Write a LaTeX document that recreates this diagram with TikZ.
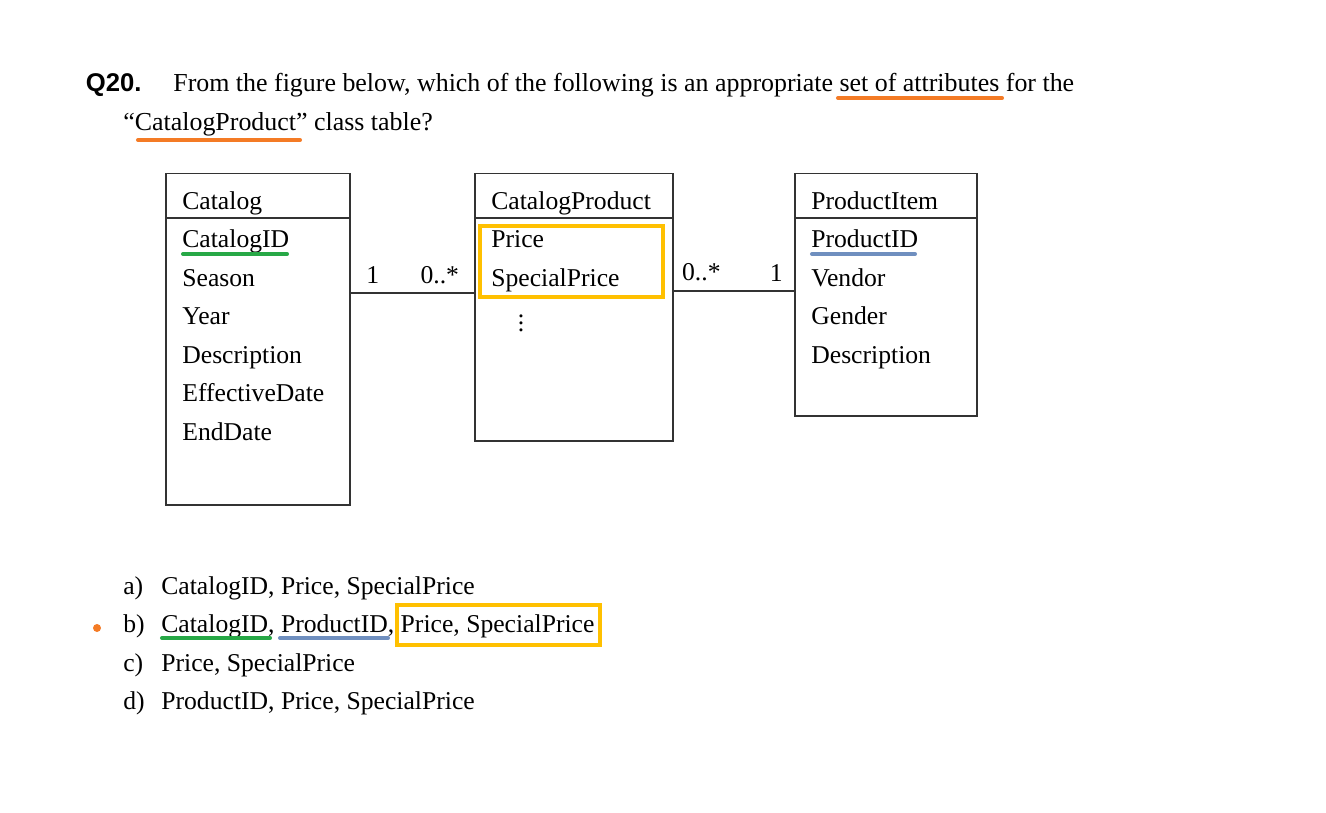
\documentclass[tikz,border=0pt]{standalone}
\usepackage{fontspec}
\setmainfont{Liberation Serif}
\newfontfamily\headfont{Liberation Sans}
\usetikzlibrary{positioning}
\definecolor{markorange}{HTML}{F47B25}
\definecolor{markyellow}{HTML}{FFC000}
\definecolor{markgreen}{HTML}{27A846}
\definecolor{markblue}{HTML}{6F8FBF}
\tikzset{
    every node/.style={inner sep=0mm, font=\fontsize{14.6pt}{17pt}\selectfont}
}
\tikzset{txt/.style={anchor=base west}}
\tikzset{headtxt/.style={anchor=base west, font=\fontsize{14.75pt}{17pt}\selectfont}}
\tikzset{classbox/.style={draw=black!80, line width=0.6pt}}
\tikzset{thinline/.style={draw=black!80, line width=0.6pt}}
\tikzset{markline/.style={line width=2.3pt, line cap=round}}
\tikzset{markbox/.style={draw=markyellow, line width=2.3pt}}

\begin{document}
\begin{tikzpicture}[x=0.02cm, y=-0.02cm]
    \useasboundingbox (0,0) rectangle (1326,812);

    \node (qnum) at (85.5,91) [txt, font=\headfont\bfseries\fontsize{14.6pt}{17pt}\selectfont] {Q20.};
    \node (qline1) at (173,91) [headtxt] {From the figure below, which of the following is an appropriate set of attributes for the};
    \node (qline2) at (123,130) [headtxt] {“CatalogProduct” class table?};

    \draw[markline, markorange] (838,98) -- (1002,98);
    \draw[markline, markorange] (138,140) -- (300,140);

    \node (catalog) at (258,339) [classbox, minimum width=3.68cm, minimum height=6.64cm] {};
    \node (catprod) at (574,307) [classbox, minimum width=3.96cm, minimum height=5.36cm] {};
    \node (proditem) at (886,294.5) [classbox, minimum width=3.64cm, minimum height=4.86cm] {};

    \coordinate (hdr) at (0,218);
    \draw[thinline] (catalog.west |- hdr) -- (catalog.east |- hdr);
    \draw[thinline] (catprod.west |- hdr) -- (catprod.east |- hdr);
    \draw[thinline] (proditem.west |- hdr) -- (proditem.east |- hdr);

    \node (cattitle) at (182,209) [txt] {Catalog};
    \node (cptitle) at (491,209) [txt] {CatalogProduct};
    \node (pititle) at (811,209) [txt] {ProductItem};

    \foreach \t [count=\i from 0] in {CatalogID, Season, Year, Description, EffectiveDate, EndDate}
        \node (cat\i) at (182, {247.5+38.5*\i}) [txt] {\t};
    \foreach \t [count=\i from 0] in {Price, SpecialPrice}
        \node (cp\i) at (491, {247.5+38.5*\i}) [txt] {\t};
    \node (cpmore) at (521,318) {$\vdots$};
    \foreach \t [count=\i from 0] in {ProductID, Vendor, Gender, Description}
        \node (pi\i) at (811, {247.5+38.5*\i}) [txt] {\t};

    \coordinate (link1) at (0,293);
    \coordinate (link2) at (0,291);
    \draw[thinline] (catalog.east |- link1) --
        node[pos=0.18, above=0.17cm] (m1) {1}
        node[pos=0.72, above=0.17cm] (m2) {0..*}
        (catprod.west |- link1);
    \draw[thinline] (catprod.east |- link2) --
        node[pos=0.23, above=0.19cm] (m3) {0..*}
        node[pos=0.85, above=0.17cm] (m4) {1}
        (proditem.west |- link2);

    \draw[markline, markgreen] (183,254) -- (287,254);
    \draw[markline, markblue] (812,254) -- (915,254);
    \draw[markbox] (480,226) rectangle (663,297);

    \foreach \l/\t [count=\i from 0] in {a/{CatalogID, Price, SpecialPrice}, b/{CatalogID, ProductID, Price, SpecialPrice}, c/{Price, SpecialPrice}, d/{ProductID, Price, SpecialPrice}} {
        \node (lbl\l) at (123, {594+38.5*\i}) [txt] {\l)};
        \node (ans\l) at (161, {594+38.5*\i}) [txt] {\t};
    }

    \fill[markorange] (97,628) circle (0.08cm);
    \draw[markline, markgreen] (162,638) -- (270,638);
    \draw[markline, markblue] (280,638) -- (388,638);
    \draw[markbox] (397,605) rectangle (600,645);
\end{tikzpicture}
\end{document}
